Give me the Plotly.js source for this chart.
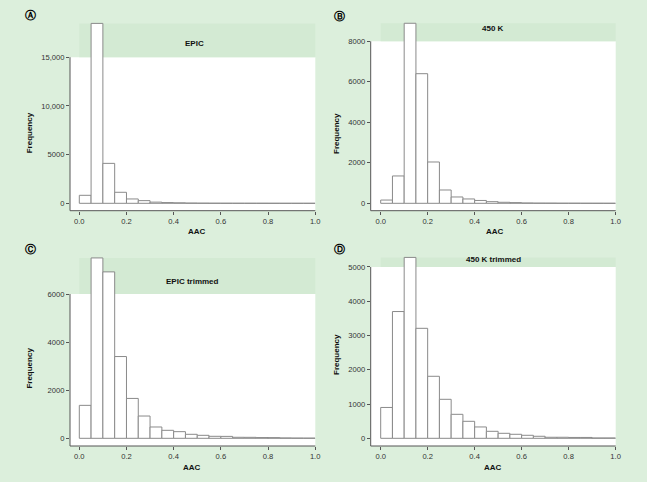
<!DOCTYPE html>
<html>
<head>
<meta charset="utf-8">
<script src="https://cdn.plot.ly/plotly-3.0.1.min.js"></script>
<style>
  html, body { margin: 0; padding: 0; background: #dcefdc; }
  #chart { width: 647px; height: 482px; }
</style>
</head>
<body>
<div id="chart"></div>
<script>
var W = 647, H = 482;

// bins of AAC, width 0.05
var binStarts = [0, 0.05, 0.1, 0.15, 0.2, 0.25, 0.3, 0.35, 0.4, 0.45,
                 0.5, 0.55, 0.6, 0.65, 0.7, 0.75, 0.8, 0.85, 0.9, 0.95];

var epic = [820, 18470, 4100, 1130, 445, 274, 120, 75, 50, 25,
            15, 10, 8, 6, 5, 4, 3, 2, 2, 1];
var k450 = [160, 1350, 8890, 6400, 2040, 657, 312, 214, 140, 80,
            50, 33, 16, 10, 8, 5, 5, 3, 2, 1];
var epicTrimmed = [1370, 7500, 6920, 3400, 1658, 926, 470, 332, 276, 166,
                   124, 83, 80, 42, 40, 30, 28, 15, 10, 8];
var k450Trimmed = [900, 3700, 5280, 3210, 1810, 1138, 700, 496, 331, 204,
                   146, 117, 88, 59, 30, 30, 25, 25, 10, 10];

var xTicks = [0, 0.2, 0.4, 0.6, 0.8, 1.0];
var xTickText = ['0.0', '0.2', '0.4', '0.6', '0.8', '1.0'];

var yTicksA = [0, 5000, 10000, 15000];
var yTextA = ['0', '5000', '10,000', '15,000'];
var yTicksB = [0, 2000, 4000, 6000, 8000];
var yTicksC = [0, 2000, 4000, 6000];
var yTicksD = [0, 1000, 2000, 3000, 4000, 5000];

// pixel geometry of each panel (R-style boxes)
var panels = [
  {values: epic, title: 'EPIC', letter: '\u24B6', yt: yTicksA, ytext: yTextA,
   xLine: 70, x0: 79.3, x1: 315.3, yLine: 210.7, y0: 203.3, yTopPx: 57.2,
   titleX: 194, titleY: 43.3, letX: 31, letY: 16, aacX: 196.7, aacY: 231.7, freqX: 29, freqY: 133.3},
  {values: k450, title: '450 K', letter: '\u24B7', yt: yTicksB, ytext: null,
   xLine: 370.7, x0: 380.7, x1: 615.7, yLine: 210.7, y0: 203.3, yTopPx: 41.3,
   titleX: 493, titleY: 28.3, letX: 339, letY: 16.7, aacX: 495, aacY: 231.7, freqX: 336.7, freqY: 133.3},
  {values: epicTrimmed, title: 'EPIC trimmed', letter: '\u24B8', yt: yTicksC, ytext: null,
   xLine: 70, x0: 79.3, x1: 315.3, yLine: 446, y0: 438.3, yTopPx: 294,
   titleX: 192, titleY: 281.7, letX: 31, letY: 249, aacX: 192, aacY: 467.3, freqX: 29.3, freqY: 368.3},
  {values: k450Trimmed, title: '450 K trimmed', letter: '\u24B9', yt: yTicksD, ytext: null,
   xLine: 370.7, x0: 380.7, x1: 615.7, yLine: 446, y0: 438.3, yTopPx: 267,
   titleX: 493.3, titleY: 259.3, letX: 339, letY: 249, aacX: 493.3, aacY: 467.3, freqX: 336, freqY: 355}
];

function px(x) { return x / W; }
function py(y) { return 1 - y / H; }

var fam = 'Liberation Sans, Arial, sans-serif';
var tickFont = {family: fam, size: 7.6, color: '#333'};
var labelFont = {family: fam, size: 8, color: '#111'};
var lineCol = '#555';

var data = [];
var layout = {
  width: W, height: H,
  margin: {l: 0, r: 0, t: 0, b: 0},
  paper_bgcolor: '#dcefdc',
  plot_bgcolor: 'rgba(0,0,0,0)',
  showlegend: false,
  hovermode: false,
  bargap: 0,
  shapes: [],
  annotations: []
};

panels.forEach(function (p, i) {
  var n = i === 0 ? '' : String(i + 1);
  var topTick = p.yt[p.yt.length - 1];
  var u = topTick / (p.y0 - p.yTopPx);           // value per pixel
  var maxV = Math.max.apply(null, p.values);
  var bandTop = p.y0 - maxV / u;
  var plotTop = bandTop - 2;

  data.push({
    type: 'bar',
    x: binStarts,
    y: p.values,
    width: 0.05,
    offset: 0,
    xaxis: 'x' + n,
    yaxis: 'y' + n,
    marker: {color: 'white', line: {color: '#8a8a8a', width: 1}}
  });

  layout['xaxis' + n] = {
    domain: [px(p.xLine), px(p.x1)],
    range: [-(p.x0 - p.xLine) / (p.x1 - p.x0), 1.0005],
    anchor: 'y' + n,
    showgrid: false, zeroline: false, showline: false,
    ticks: 'outside', ticklen: 3, tickcolor: lineCol, tickwidth: 1,
    tickvals: xTicks, ticktext: xTickText,
    tickfont: tickFont, fixedrange: true
  };
  layout['yaxis' + n] = {
    domain: [py(p.yLine), py(plotTop)],
    range: [-(p.yLine - p.y0) * u, (p.y0 - plotTop) * u],
    anchor: 'x' + n,
    showgrid: false, zeroline: false, showline: false,
    ticks: 'outside', ticklen: 3, tickcolor: lineCol, tickwidth: 1,
    tickvals: p.yt, ticktext: p.ytext || p.yt.map(String),
    tickfont: tickFont, fixedrange: true
  };

  // white plot box and darker title band
  layout.shapes.push({
    type: 'rect', xref: 'paper', yref: 'paper', layer: 'below',
    x0: px(p.xLine), x1: px(p.x1), y0: py(p.yLine), y1: py(p.yTopPx),
    fillcolor: 'white', line: {width: 0}
  });
  layout.shapes.push({
    type: 'rect', xref: 'paper', yref: 'paper', layer: 'below',
    x0: px(p.x0), x1: px(p.x1), y0: py(p.yTopPx), y1: py(bandTop),
    fillcolor: '#d3ead3', line: {width: 0}
  });
  // L-shaped axis lines
  layout.shapes.push({
    type: 'path', xref: 'paper', yref: 'paper', layer: 'above',
    path: 'M' + px(p.xLine) + ',' + py(p.yTopPx) + ' L' + px(p.xLine) + ',' + py(p.yLine) +
          ' L' + px(p.x1) + ',' + py(p.yLine),
    line: {color: lineCol, width: 1}
  });

  layout.annotations.push(
    {text: '<b>' + p.title + '</b>', x: px(p.titleX), y: py(p.titleY), xref: 'paper', yref: 'paper',
     showarrow: false, xanchor: 'center', yanchor: 'middle', font: labelFont},
    {text: '<b>AAC</b>', x: px(p.aacX), y: py(p.aacY), xref: 'paper', yref: 'paper',
     showarrow: false, xanchor: 'center', yanchor: 'middle', font: labelFont},
    {text: '<b>Frequency</b>', x: px(p.freqX), y: py(p.freqY), xref: 'paper', yref: 'paper',
     showarrow: false, xanchor: 'center', yanchor: 'middle', textangle: -90, font: labelFont},
    {text: '<b>' + p.letter + '</b>', x: px(p.letX), y: py(p.letY), xref: 'paper', yref: 'paper',
     showarrow: false, xanchor: 'center', yanchor: 'middle',
     font: {family: 'DejaVu Sans, sans-serif', size: 11, color: '#000'}}
  );
});

Plotly.newPlot('chart', data, layout, {displayModeBar: false, staticPlot: true});
</script>
</body>
</html>
